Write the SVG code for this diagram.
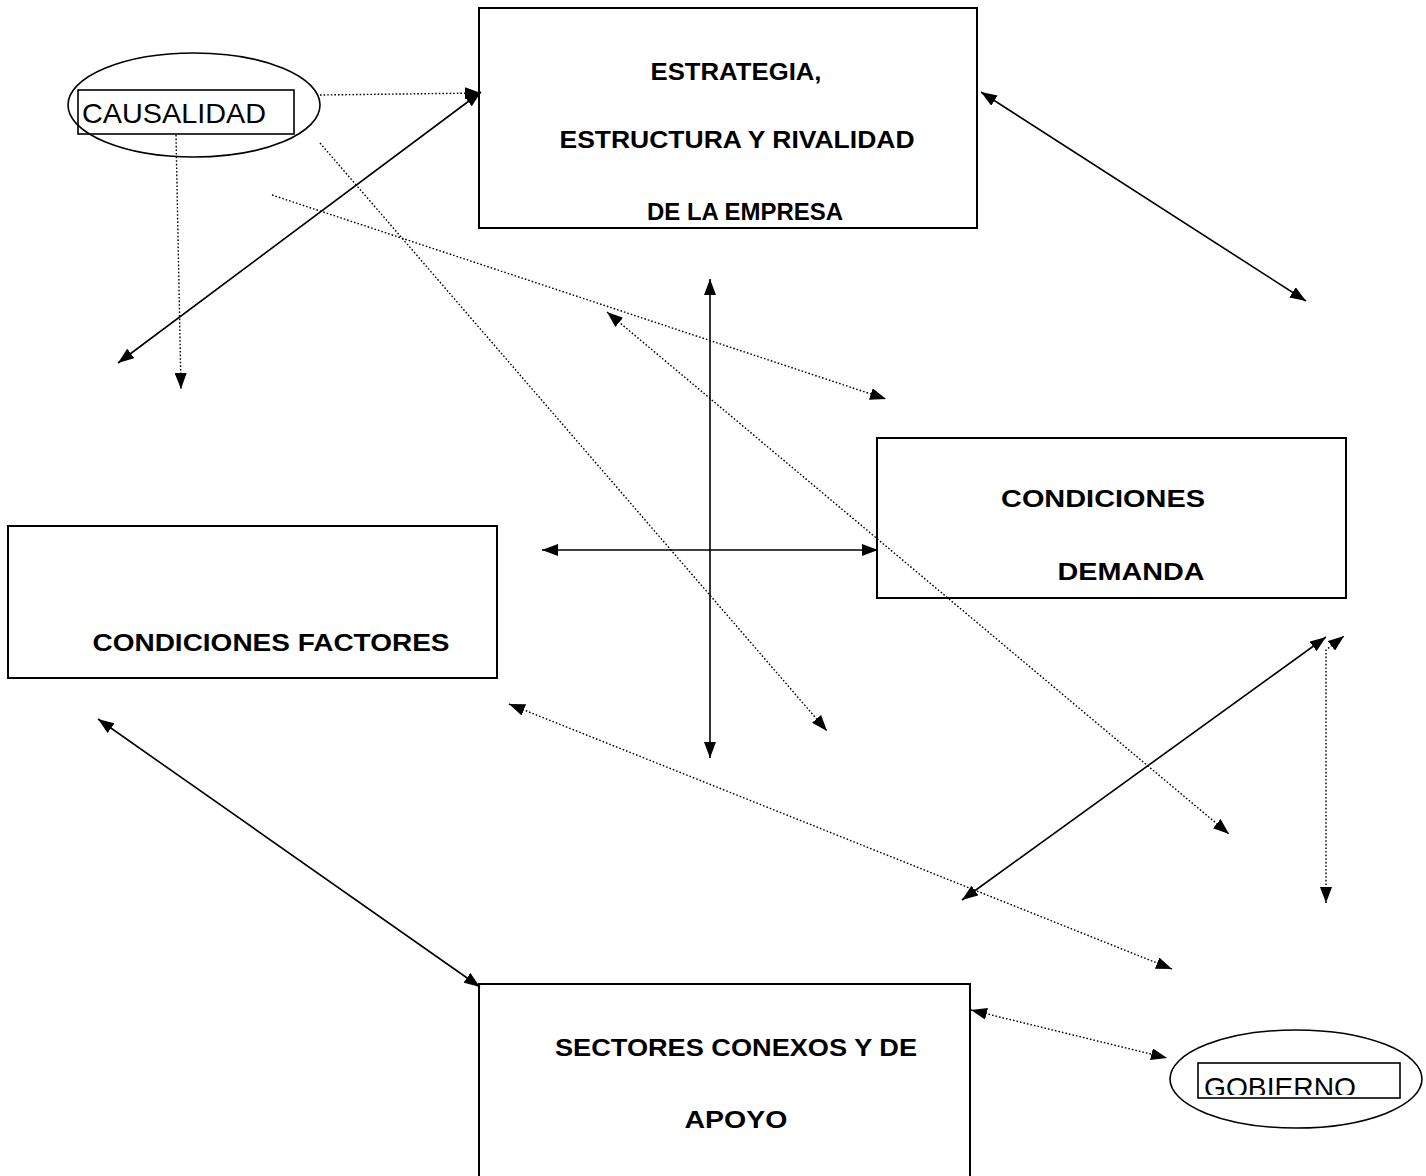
<svg xmlns="http://www.w3.org/2000/svg" width="1426" height="1176" viewBox="0 0 1426 1176">
<style>
.box{fill:none;stroke:#000;stroke-width:2}
.lbl{font-family:"Liberation Sans",Arial,sans-serif;font-weight:bold;font-size:24px;fill:#000}
.el{fill:none;stroke:#000;stroke-width:1.6}
.tag{font-family:"Liberation Sans",Arial,sans-serif;font-size:28px;fill:#000}
.s{fill:none;stroke:#000;stroke-width:1.6}
.d{fill:none;stroke:#000;stroke-width:1.4;stroke-dasharray:1.6 2}
</style>
<defs>
<marker id="a" viewBox="0 0 16 12" refX="16" refY="6" markerWidth="16" markerHeight="12" markerUnits="userSpaceOnUse" orient="auto-start-reverse">
<path d="M0,0 L16,6 L0,12 z" fill="#000"/>
</marker>
<clipPath id="gclip"><rect x="1198" y="1063" width="202" height="32"/></clipPath>
</defs>
<rect width="1426" height="1176" fill="#fff"/>
<g id="connectors">
<path class="s" d="M118,363 L481,92" marker-start="url(#a)" marker-end="url(#a)"/>
<path class="d" d="M320,95 L481,93" marker-end="url(#a)"/>
<path class="d" d="M176,135 L181,389" marker-end="url(#a)"/>
<path class="d" d="M320,143 L827,731" marker-end="url(#a)"/>
<path class="d" d="M272,195 L886,399" marker-end="url(#a)"/>
<path class="s" d="M710,279 L710,758" marker-start="url(#a)" marker-end="url(#a)"/>
<path class="s" d="M542,550 L878,550" marker-start="url(#a)" marker-end="url(#a)"/>
<path class="d" d="M607,312 L1229,834" marker-start="url(#a)" marker-end="url(#a)"/>
<path class="s" d="M981,92 L1306,301" marker-start="url(#a)" marker-end="url(#a)"/>
<path class="s" d="M98,719 L480,987" marker-start="url(#a)" marker-end="url(#a)"/>
<path class="d" d="M509,704 L1172,969" marker-start="url(#a)" marker-end="url(#a)"/>
<path class="s" d="M962,900 L1326,637" marker-start="url(#a)" marker-end="url(#a)"/>
<path class="d" d="M1326,903 L1326,650 L1344,636" marker-start="url(#a)" marker-end="url(#a)"/>
<path class="d" d="M971,1010 L1167,1058" marker-start="url(#a)" marker-end="url(#a)"/>
</g>
<g id="estrategia">
<rect class="box" x="479" y="8" width="498" height="220"/>
<text class="lbl" x="736" y="80" text-anchor="middle" textLength="171" lengthAdjust="spacingAndGlyphs">ESTRATEGIA,</text>
<text class="lbl" x="737" y="148" text-anchor="middle" textLength="355" lengthAdjust="spacingAndGlyphs">ESTRUCTURA Y RIVALIDAD</text>
<text class="lbl" x="745" y="220" text-anchor="middle" textLength="196" lengthAdjust="spacingAndGlyphs">DE LA EMPRESA</text>
</g>
<g id="demanda">
<rect class="box" x="877" y="438" width="469" height="160"/>
<text class="lbl" x="1103" y="507" text-anchor="middle" textLength="204" lengthAdjust="spacingAndGlyphs">CONDICIONES</text>
<text class="lbl" x="1131" y="580" text-anchor="middle" textLength="147" lengthAdjust="spacingAndGlyphs">DEMANDA</text>
</g>
<g id="factores">
<rect class="box" x="8" y="526" width="489" height="152"/>
<text class="lbl" x="271" y="651" text-anchor="middle" textLength="357" lengthAdjust="spacingAndGlyphs">CONDICIONES FACTORES</text>
</g>
<g id="sectores">
<rect class="box" x="479" y="984" width="491" height="200"/>
<text class="lbl" x="736" y="1056" text-anchor="middle" textLength="362" lengthAdjust="spacingAndGlyphs">SECTORES CONEXOS Y DE</text>
<text class="lbl" x="736" y="1128" text-anchor="middle" textLength="103" lengthAdjust="spacingAndGlyphs">APOYO</text>
</g>
<g id="causalidad">
<ellipse class="el" cx="194" cy="105" rx="126" ry="52"/>
<rect x="78" y="90" width="216" height="44" fill="none" stroke="#000" stroke-width="1.6"/>
<text class="tag" x="82" y="123" textLength="184" lengthAdjust="spacingAndGlyphs">CAUSALIDAD</text>
</g>
<g id="gobierno">
<ellipse class="el" cx="1296" cy="1079" rx="126" ry="49"/>
<rect x="1198" y="1063" width="202" height="35" fill="none" stroke="#000" stroke-width="1.6"/>
<text class="tag" x="1204" y="1097" clip-path="url(#gclip)" textLength="152" lengthAdjust="spacingAndGlyphs">GOBIERNO</text>
</g>
</svg>
